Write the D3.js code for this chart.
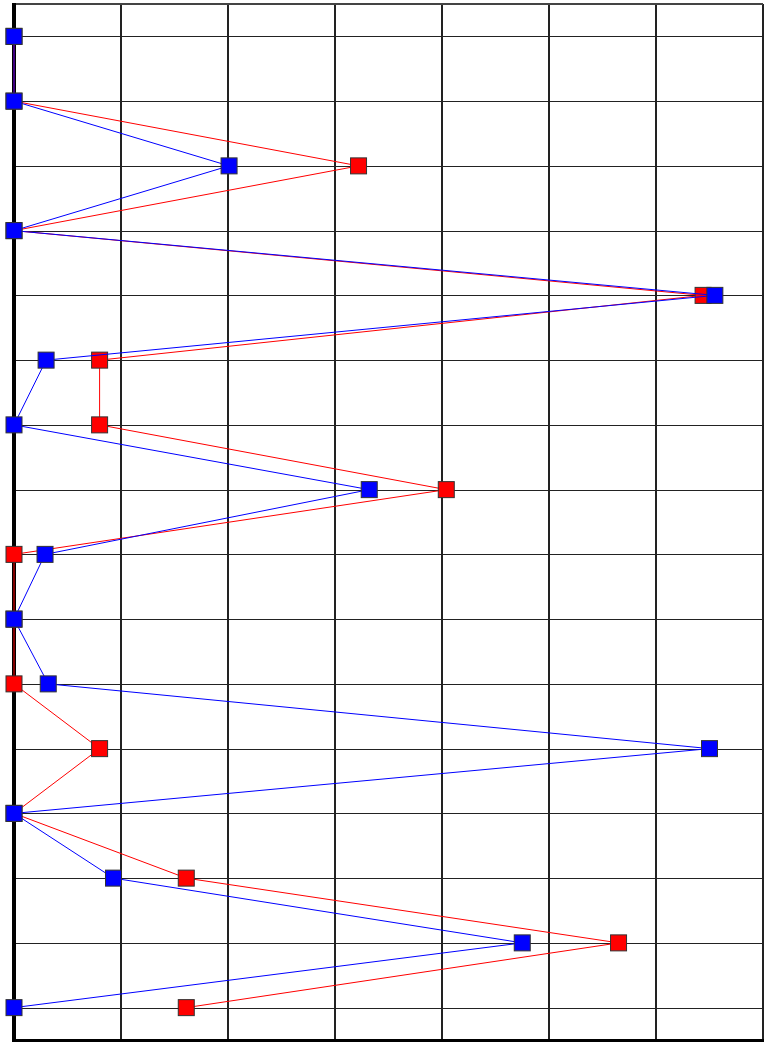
<!DOCTYPE html>
<html lang="en">
<head>
<meta charset="utf-8">
<style>
  body { margin: 0; background: white; }
  svg { display: block; background: white; }
</style>
</head>
<body>
<svg width="764" height="1042"></svg>
<script src="https://d3js.org/d3.v7.min.js"></script>
<script>
// rows, top to bottom
const categories = ["r1","r2","r3","r4","r5","r6","r7","r8","r9","r10","r11","r12","r13","r14","r15","r16"]
const redValues  = [0, 0, 3.22, 0, 6.44, 0.80, 0.80, 4.04, 0, 0, 0, 0.80, 0, 1.61, 5.65, 1.61]
const blueValues = [0, 0, 2.01, 0, 6.55, 0.30, 0, 3.32, 0.29, 0, 0.32, 6.50, 0, 0.93, 4.75, 0]
const xTicks = [1, 2, 3, 4, 5, 6, 7]

const width = 764, height = 1042
const margin = { top: 4, right: 1, bottom: 2, left: 14 }

const x = d3.scaleLinear().domain([0, 7]).range([margin.left, width - margin.right])
const y = d3.scaleBand().domain(categories).range([margin.top, height - margin.bottom])
const yc = d => y(d) + y.bandwidth() / 2

const svg = d3.select("svg")

// horizontal lines through each row
svg.append("g")
  .selectAll("line")
  .data(categories)
  .join("line")
  .attr("x1", x(0)).attr("x2", x(7))
  .attr("y1", d => Math.round(yc(d)) + 0.5).attr("y2", d => Math.round(yc(d)) + 0.5)
  .attr("stroke", "#222").attr("stroke-width", 1)

// vertical gridlines
svg.append("g")
  .selectAll("line")
  .data(xTicks)
  .join("line")
  .attr("x1", d => Math.round(x(d))).attr("x2", d => Math.round(x(d)))
  .attr("y1", margin.top).attr("y2", height)
  .attr("stroke", "#222").attr("stroke-width", 2)

// top border
svg.append("line")
  .attr("x1", x(0)).attr("x2", x(7))
  .attr("y1", margin.top).attr("y2", margin.top)
  .attr("stroke", "#444").attr("stroke-width", 2)

// bottom axis
svg.append("line")
  .attr("x1", x(0) - 2).attr("x2", width)
  .attr("y1", height - 1.5).attr("y2", height - 1.5)
  .attr("stroke", "#000").attr("stroke-width", 3)

// left axis
svg.append("line")
  .attr("x1", x(0)).attr("x2", x(0))
  .attr("y1", margin.top - 1).attr("y2", height)
  .attr("stroke", "#000").attr("stroke-width", 4)

const line = d3.line()
  .x(d => x(d.v))
  .y(d => yc(d.c))

const series = [
  { color: "#ff0000", values: redValues },
  { color: "#0000ff", values: blueValues }
]

series.forEach(s => {
  const pts = categories.map((c, i) => ({ c: c, v: s.values[i] }))
  const g = svg.append("g")
  g.append("path")
    .datum(pts)
    .attr("fill", "none")
    .attr("stroke", s.color)
    .attr("stroke-width", 1)
    .attr("d", line)
  g.selectAll("rect")
    .data(pts)
    .join("rect")
    .attr("x", d => x(d.v) - 8)
    .attr("y", d => yc(d.c) - 8)
    .attr("width", 16).attr("height", 16)
    .attr("fill", s.color)
    .attr("stroke", "#333")
    .attr("stroke-width", 1)
})
</script>
</body>
</html>
